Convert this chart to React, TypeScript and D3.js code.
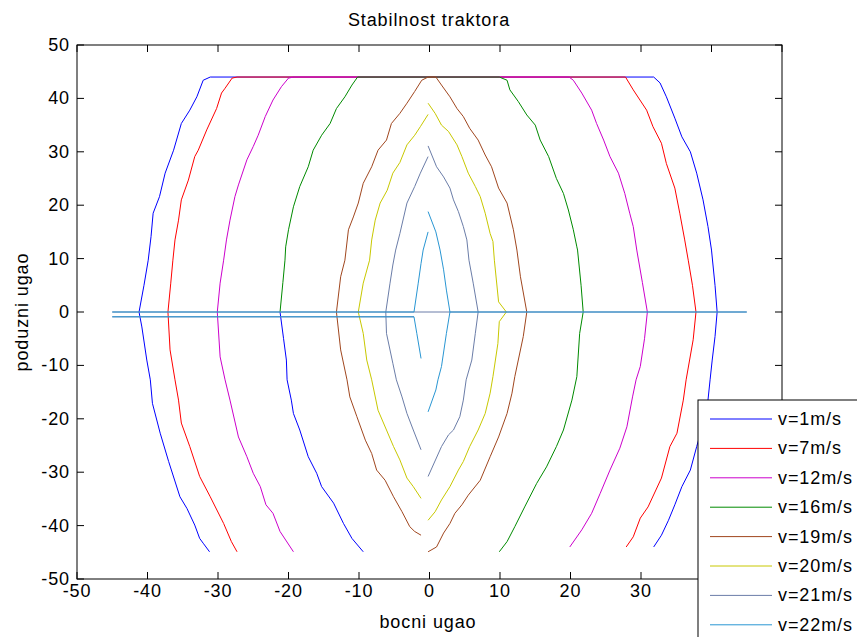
import React from "react";
import { scaleLinear, line } from "d3";

const width = 857, height = 637
const margin = { left: 77, right: 782, top: 45, bottom: 579 }

type Pt = [number, number]

const labels = ["v=1m/s", "v=7m/s", "v=12m/s", "v=16m/s", "v=19m/s", "v=20m/s", "v=21m/s", "v=22m/s"]
const colors = ["#0000ff", "#ff0000", "#cc00cc", "#008a00", "#a0461e", "#c8c800", "#6b7da8", "#2996d3"]
const xTicks = [-50, -40, -30, -20, -10, 0, 10, 20, 30, 40, 50]
const yTicks = [-50, -40, -30, -20, -10, 0, 10, 20, 30, 40, 50]

// v = 1 m/s
const v1Upper: Pt[] = [[-41.2,0],[-40.5,5],[-39.9,9.7],[-39.5,14.1],[-39.2,18.5],[-38.3,21.6],[-37.5,26],[-36.3,30.3],[-35.2,35.3],[-34,37.8],[-33,40.3],[-32.1,43.4],[-31.1,44],[31.8,44],[32.7,42.9],[33.6,40.3],[34.8,36.3],[35.8,32.8],[37,30],[37.9,26],[38.8,21],[39.5,16],[40,11.6],[40.5,5],[40.8,0]]
const v1LowerLeft: Pt[] = [[-41.2,0],[-40.8,-2.8],[-40.1,-9],[-39.6,-12.7],[-39.3,-17.1],[-38.2,-22.7],[-37,-28],[-35.4,-34.6],[-34.4,-36.8],[-33.3,-39.9],[-32.6,-42.4],[-32.1,-43.3],[-31.2,-44.9]]
const v1LowerRight: Pt[] = [[40.8,0],[40.5,-4.6],[40.1,-9],[39.8,-12.7],[39.5,-16.5],[38.8,-21],[37.9,-25.2],[37,-29.6],[35.8,-32.7],[34.8,-36.1],[33.9,-39],[32.9,-41.8],[31.8,-44]]

// v = 7 m/s
const v7Upper: Pt[] = [[-37.1,0],[-36.7,5.4],[-36.4,9.7],[-36.1,13.5],[-35.6,17.2],[-35.2,21],[-34.2,24.7],[-33.3,29.1],[-32.8,30.3],[-31.6,34.1],[-30.2,38.1],[-29.5,41],[-29,41.9],[-28,43.8],[-27.3,44],[27.8,44],[28.9,41.6],[30.8,37.8],[31.7,34.7],[32.9,31.6],[33.6,27.8],[34.8,23.2],[35.5,18.5],[36.2,13.5],[36.7,9.7],[37.3,5],[37.8,0]]
const v7LowerLeft: Pt[] = [[-37.1,0],[-36.8,-7.1],[-36.1,-12.7],[-35.6,-16.5],[-35.2,-20.8],[-34,-25.2],[-32.6,-30.8],[-31.1,-34.6],[-29.2,-39.6],[-28.1,-43],[-27.3,-44.9]]
const v7LowerRight: Pt[] = [[37.8,0],[37.4,-5.2],[36.4,-12.7],[36,-16.5],[35.1,-22.7],[34.1,-25.2],[32.9,-31.1],[31,-36.5],[29.9,-38.6],[28.9,-42.1],[27.9,-44]]

// v = 12 m/s
const v12Upper: Pt[] = [[-30.1,0],[-29.7,5.4],[-29.2,9.7],[-28.8,13.5],[-28.3,17.2],[-27.6,21.6],[-27.1,23.8],[-25.9,28.5],[-25,31],[-24.3,33.1],[-23.3,36.6],[-22.2,39.7],[-21,42.2],[-20,43.8],[-19.3,44],[19.8,44],[20.4,43.4],[21.6,41],[23,37.8],[23.7,35.3],[24.7,32.2],[25.6,29.1],[26.8,26],[27.7,22.2],[28.4,18.5],[28.9,16],[29.4,11.6],[30.2,5.5],[30.9,0]]
const v12LowerLeft: Pt[] = [[-30.1,0],[-29.7,-8.4],[-29,-12.7],[-28.3,-16.5],[-27.1,-23.4],[-25.9,-27.1],[-25,-30.2],[-24,-32.7],[-23.2,-36.1],[-22.2,-37.7],[-21.2,-41.1],[-19.3,-44.9]]
const v12LowerRight: Pt[] = [[30.9,0],[30.5,-5],[29.9,-10.2],[29.3,-12.7],[28.8,-15.9],[28,-21.5],[27,-25.5],[25.6,-29.6],[24.2,-34],[23,-37.7],[21.6,-40.8],[19.9,-44]]

// v = 16 m/s
const v16Upper: Pt[] = [[-21.2,0],[-20.8,5.5],[-20.5,9.7],[-20.4,12.2],[-20,15.4],[-19.3,19.7],[-18.4,23.5],[-17.2,27.2],[-16.5,30.3],[-15.3,33.1],[-14.1,35.3],[-13.2,38.1],[-12,40.3],[-11,42.5],[-10.2,44],[9.9,44],[11,43.4],[11.4,41.6],[12.6,39.4],[13.8,36.9],[15,35],[15.7,32.2],[16.9,29.1],[18,25],[19,22.2],[19.7,19.1],[20.4,15.4],[20.9,12.2],[21,11.6],[21.5,5],[21.8,0]]
const v16LowerLeft: Pt[] = [[-21.2,0],[-20.7,-5],[-20.3,-9],[-20.2,-12.7],[-19.6,-16.5],[-19.3,-19],[-18.4,-22.1],[-17.2,-27.1],[-16,-30.2],[-15.3,-32.7],[-13.6,-35.8],[-12.2,-39.6],[-11,-42.4],[-9.4,-44.9]]
const v16LowerRight: Pt[] = [[21.8,0],[21.3,-4],[20.9,-12.1],[20.2,-16.5],[19,-22.1],[18,-25.2],[16.6,-29],[15.2,-32.1],[13.5,-36.5],[12.1,-40.2],[11,-43],[9.9,-44.9]]

// v = 19 m/s
const v19Upper: Pt[] = [[-13.2,0],[-12.6,6.6],[-12,9.7],[-11.5,15.4],[-10.8,17.8],[-10.1,20.4],[-9.4,24.1],[-8.2,27.2],[-7.3,30.3],[-6.1,32.2],[-5.4,35.3],[-4.2,37.2],[-3.2,39.1],[-2.1,41.3],[-1.1,43.4],[-0.2,44],[0.9,44],[1.7,42.5],[2.9,40.3],[3.9,38.1],[4.8,36.6],[5.7,34.4],[6.9,32.2],[7.9,29.4],[8.8,27.2],[9.8,23.2],[11,20.4],[11.9,15.4],[12.4,11.6],[12.9,6.6],[13.8,0]]
const v19LowerLeft: Pt[] = [[-13.2,0],[-12.6,-7.1],[-11.7,-12.7],[-11.3,-15.9],[-10.3,-19.6],[-9.1,-24],[-8.2,-26.5],[-7.5,-29.6],[-6.3,-31.5],[-5.1,-34.6],[-3.9,-37.4],[-2.8,-40.2],[-2.1,-41.1],[-1.2,-41.8]]
const v19LowerRight: Pt[] = [[13.8,0],[13.3,-4.6],[12.1,-12.1],[11.7,-15.2],[11,-19],[9.8,-23.4],[8.6,-27.1],[7.2,-31.5],[5.5,-34.3],[4.6,-36.1],[3.6,-37.7],[2.9,-39.6],[2,-41.4],[1,-44],[-0.2,-44.9]]

// v = 20 m/s
const v20UpperLeft: Pt[] = [[-10.1,0],[-9.4,5.4],[-8.5,9.7],[-8.2,13.5],[-7.7,17.2],[-7,20.4],[-6,22.8],[-5.2,26],[-4.2,28],[-3.2,31.3],[-2.1,33.1],[-1.3,34.7],[-0.2,37]]
const v20UpperRight: Pt[] = [[-0.2,39.1],[0.8,37.2],[1.7,35],[2.7,33.8],[3.9,31.3],[4.6,29.1],[5.5,26],[6.5,23.5],[7.2,21.6],[7.9,18.5],[8.6,14.7],[9,13.2],[9.2,9.7],[9.8,1.9],[10.9,0]]
const v20LowerLeft: Pt[] = [[-10.1,0],[-9.4,-4],[-8.9,-9],[-8.2,-12.7],[-7.3,-18.4],[-6.1,-22.1],[-5.1,-25.2],[-4.2,-27.7],[-3.2,-31.1],[-2.3,-32.7],[-1.2,-34.9]]
const v20LowerRight: Pt[] = [[10.9,0],[9.9,-1.8],[9.7,-5.9],[9,-12.1],[8.6,-15.2],[7.9,-19],[6.9,-22.1],[5.7,-25.2],[4.8,-28],[4.1,-29.6],[2.9,-32.7],[1.7,-35.2],[0.8,-37.4],[-0.2,-39]]

// v = 21 m/s
const v21UpperLeft: Pt[] = [[-6.2,0],[-5.6,5.4],[-5.2,8.8],[-4.8,11.6],[-4.2,14.7],[-3.2,20.4],[-2.1,23.5],[-1.3,26],[-0.2,29.1]]
const v21UpperRight: Pt[] = [[-0.2,31.1],[1,27.2],[2,25.3],[2.9,23.2],[3.4,21],[4.1,18.8],[4.8,16],[5.3,13.5],[5.6,9.7],[6.2,5.4],[6.9,0]]
const v21LowerLeft: Pt[] = [[-6.2,0],[-6.1,-4],[-5.2,-9.6],[-4.7,-12.7],[-3.9,-15.9],[-3.2,-19],[-2.3,-22.1],[-1.2,-25.8]]
const v21LowerRight: Pt[] = [[6.9,0],[6.5,-4],[6,-9],[5.2,-12.7],[4.8,-16.5],[4.3,-19.6],[3.4,-22.1],[2.7,-23],[1.7,-25.2],[-0.2,-30.8]]
const v21Axis: Pt[] = [[-45,0],[45,0]]
const v21AxisLow: Pt[] = [[-45,-0.9],[-2.2,-0.9]]

// v = 22 m/s
const v22UpperLeft: Pt[] = [[-45,0],[-2.2,0],[-1.6,5.4],[-1.2,9.1],[-0.9,11.6],[-0.2,15]]
const v22UpperRight: Pt[] = [[-0.2,18.8],[0.9,15],[1.5,11.6],[2,7.9],[2.4,4.1],[2.9,0],[45,0]]
const v22LowerLeft: Pt[] = [[-45,-0.9],[-2.2,-0.9],[-1.8,-4],[-1.2,-8.7]]
const v22LowerRight: Pt[] = [[2.9,0],[2.4,-4],[1.7,-10.2],[1.2,-12.7],[0.9,-14.6],[-0.2,-18.7]]

const series: Pt[][][] = [
  [v1Upper, v1LowerLeft, v1LowerRight],
  [v7Upper, v7LowerLeft, v7LowerRight],
  [v12Upper, v12LowerLeft, v12LowerRight],
  [v16Upper, v16LowerLeft, v16LowerRight],
  [v19Upper, v19LowerLeft, v19LowerRight],
  [v20UpperLeft, v20UpperRight, v20LowerLeft, v20LowerRight],
  [v21Axis, v21AxisLow, v21UpperLeft, v21UpperRight, v21LowerLeft, v21LowerRight],
  [v22UpperLeft, v22UpperRight, v22LowerLeft, v22LowerRight],
]
// the lower-left branch of v=16 is drawn in blue in the original
const colorOverride: Record<string, string> = { "3-1": "#0000ff" }

const font = "'Liberation Sans', Arial, Helvetica, sans-serif"
const textStyle = { fontFamily: font, fontSize: 18, letterSpacing: 0.9 }

// legend box, the plot's right end sits under it
const legend = { x: 698, y: 400, row: 29.4 }

const App = () => {
  const x = scaleLinear().domain([-50, 50]).range([margin.left, margin.right])
  const y = scaleLinear().domain([-50, 50]).range([margin.bottom, margin.top])
  const path = line<Pt>().x(d => x(d[0])).y(d => y(d[1]))
  const tl = 7

  return <svg width={width} height={height} style={{ position: "absolute", left: 0, top: 0, background: "#fff" }}>
    <rect width={width} height={height} fill="#fff" />
    {series.map((segs, i) =>
      <g key={i}>
        {segs.map((s, j) =>
          <path key={j} d={path(s) || ""} fill="none" stroke={colorOverride[`${i}-${j}`] || colors[i]} strokeWidth={1} />
        )}
      </g>
    )}
    {/* axes box */}
    <rect x={margin.left} y={margin.top} width={margin.right - margin.left} height={margin.bottom - margin.top} fill="none" stroke="#000" strokeWidth={1} />
    {xTicks.map(t => <g key={"x" + t}>
      <line x1={x(t)} x2={x(t)} y1={margin.bottom} y2={margin.bottom - tl} stroke="#000" />
      <line x1={x(t)} x2={x(t)} y1={margin.top} y2={margin.top + tl} stroke="#000" />
      {/* labels hidden by the legend are left out */}
      {x(t) < legend.x - 8 && <text x={x(t)} y={597} textAnchor="middle" style={textStyle}>{t}</text>}
    </g>)}
    {yTicks.map(t => <g key={"y" + t}>
      <line x1={margin.left} x2={margin.left + tl} y1={y(t)} y2={y(t)} stroke="#000" />
      <line x1={margin.right} x2={margin.right - tl} y1={y(t)} y2={y(t)} stroke="#000" />
      <text x={70} y={y(t) + 6} textAnchor="end" style={textStyle}>{t}</text>
    </g>)}
    <text x={429} y={26} textAnchor="middle" style={textStyle}>Stabilnost traktora</text>
    <text x={428} y={628} textAnchor="middle" style={textStyle}>bocni ugao</text>
    <text transform="translate(28,312) rotate(-90)" textAnchor="middle" style={textStyle}>poduzni ugao</text>
    {/* legend */}
    <g>
      <rect x={legend.x} y={legend.y} width={200} height={260} fill="#fff" stroke="#000" strokeWidth={1} />
      {labels.map((l, i) => {
        const ry = legend.y + 19 + i * legend.row
        return <g key={l}>
          <line x1={710} x2={772} y1={ry} y2={ry} stroke={colors[i]} strokeWidth={1} />
          <text x={778} y={ry + 6} style={textStyle}>{l}</text>
        </g>
      })}
    </g>
  </svg>
}

export default App;
